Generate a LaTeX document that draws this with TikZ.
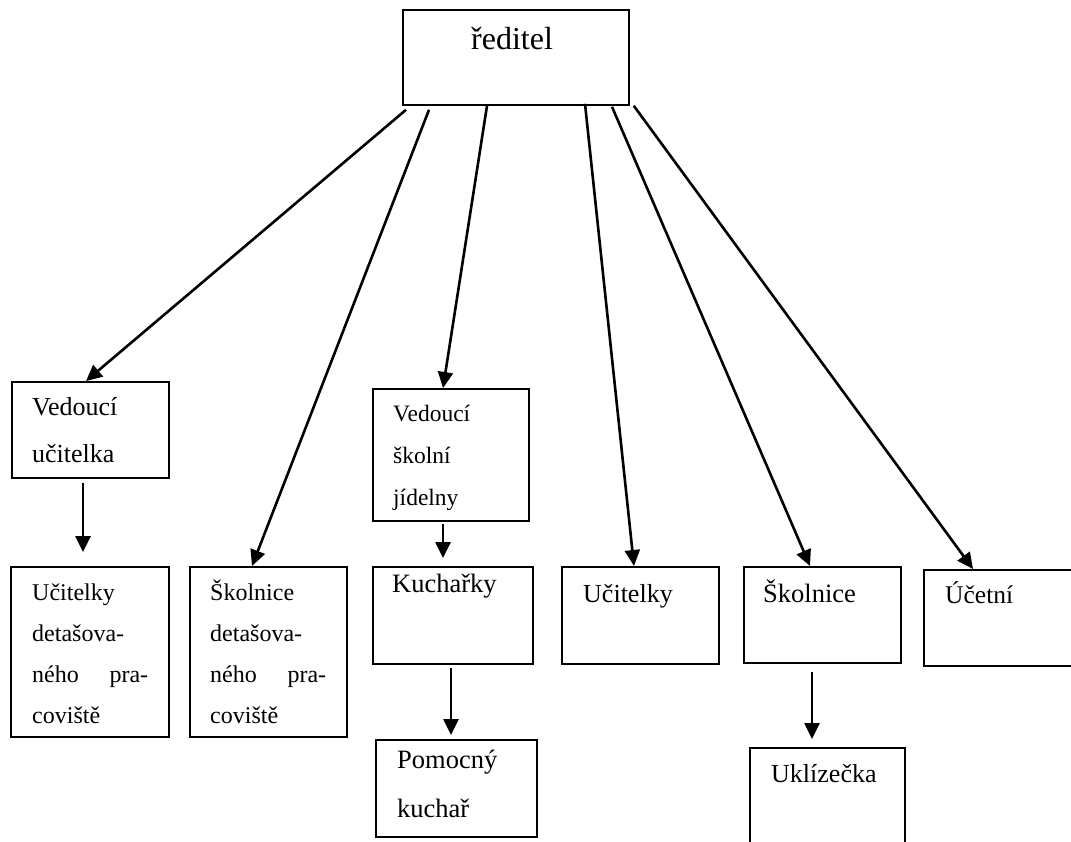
\documentclass[tikz,border=0pt]{standalone}
\usepackage{fontspec}
\setmainfont{Liberation Serif}
\usetikzlibrary{arrows.meta}

\tikzset{
  box/.style={draw, line width=1.8pt, rectangle, anchor=north west, inner sep=0pt},
  dims/.style 2 args={minimum width=#1pt, minimum height=#2pt},
  txt/.style={anchor=base west, inner sep=0pt, align=left},
  arr/.style={line width=2.6pt, -{Triangle[length=16pt,width=15pt]}}
}
\newcommand{\fsz}[2]{\fontsize{#1}{#2}\selectfont}

\begin{document}
\begin{tikzpicture}[x=1pt,y=-1pt]
  \useasboundingbox (0,0) rectangle (1071,841);

  % boxes
  \node[box,dims={226}{95}]  (red) at (402,9) {};
  \node[box,dims={157}{96}]  (vu)  at (11,381) {};
  \node[box,dims={158}{170}] (ud)  at (10,566) {};
  \node[box,dims={157}{170}] (sd)  at (189,566) {};
  \node[box,dims={156}{132}] (vj)  at (372,388) {};
  \node[box,dims={160}{97}]  (ku)  at (372,566) {};
  \node[box,dims={161}{97}]  (po)  at (375,739) {};
  \node[box,dims={157}{97}]  (uc)  at (561,566) {};
  \node[box,dims={157}{96}]  (sk)  at (743,566) {};
  \node[box,dims={160}{96}]  (ue)  at (923,569) {};
  \node[box,dims={155}{120}] (uk)  at (749,747) {};

  % texts (base = last line)
  \node[txt,font=\fsz{32}{36}] (redT) at (471,49) {ředitel};
  \node[txt,font=\fsz{26}{47}] (vuT)  at (32,462) {Vedoucí\\učitelka};
  \node[txt,font=\fsz{24}{41}] (udT)  at (32,723)
    {Učitelky\\detašova-\\\makebox[116pt][s]{ného pra-}\\coviště};
  \node[txt,font=\fsz{24}{41}] (sdT)  at (210,723)
    {Školnice\\detašova-\\\makebox[116pt][s]{ného pra-}\\coviště};
  \node[txt,font=\fsz{23.5}{42}] (vjT) at (393,505) {Vedoucí\\školní\\jídelny};
  \node[txt,font=\fsz{26.5}{40}] (kuT) at (392,592) {Kuchařky};
  \node[txt,font=\fsz{26.5}{49}] (poT) at (397,817) {Pomocný\\kuchař};
  \node[txt,font=\fsz{26}{40}] (ucT)  at (583,602) {Učitelky};
  \node[txt,font=\fsz{26.5}{40}] (skT) at (763,602) {Školnice};
  \node[txt,font=\fsz{25.5}{40}] (ueT) at (945,603) {Účetní};
  \node[txt,font=\fsz{26}{40}] (ukT)  at (771,782) {Uklízečka};

  % from the director
  \draw[arr] ([xshift=4pt,yshift=-4pt]red.south west)   -- ([xshift=75pt]vu.north west);
  \draw[arr] ([xshift=27pt,yshift=-4pt]red.south west)  -- ([xshift=63pt]sd.north west);
  \draw[arr] ([xshift=85pt]red.south west)              -- ([xshift=71pt]vj.north west);
  \draw[arr] ([xshift=183pt,yshift=2pt]red.south west)  -- ([xshift=73pt]uc.north west);
  \draw[arr] ([xshift=210pt,yshift=-1pt]red.south west) -- ([xshift=67pt]sk.north west);
  \draw[arr] ([xshift=4pt]red.south east)               -- ([xshift=50pt]ue.north west);

  % lower levels
  \draw[arr] ([xshift=72pt,yshift=-4pt]vu.south west) -- ([xshift=73pt,yshift=14pt]ud.north west);
  \draw[arr] ([xshift=71pt,yshift=-2pt]vj.south west) -- ([xshift=71pt,yshift=8pt]ku.north west);
  \draw[arr] ([xshift=79pt,yshift=-3pt]ku.south west) -- ([xshift=76pt,yshift=4pt]po.north west);
  \draw[arr] ([xshift=69pt,yshift=-8pt]sk.south west) -- ([xshift=63pt,yshift=8pt]uk.north west);
\end{tikzpicture}
\end{document}
